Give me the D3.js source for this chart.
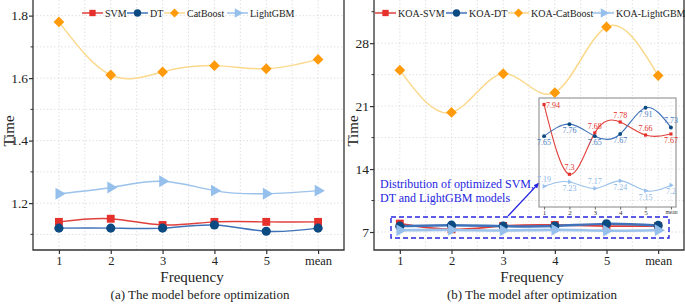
<!DOCTYPE html>
<html>
<head>
<meta charset="utf-8">
<script src="https://cdn.jsdelivr.net/npm/d3@7"></script>
<style>
  body { margin: 0; background: #fff; }
  svg { display: block; font-family: "Liberation Serif", "Times New Roman", serif; }
</style>
</head>
<body>
<svg id="chart" width="685" height="304"></svg>
<script>
// categories on the x axis
const frequencies = ['1', '2', '3', '4', '5', 'mean'];

// (a) before optimization
const svmBefore      = [1.14, 1.15, 1.13, 1.14, 1.14, 1.14];
const dtBefore       = [1.12, 1.12, 1.12, 1.13, 1.11, 1.12];
const catBefore      = [1.78, 1.61, 1.62, 1.64, 1.63, 1.66];
const lgbmBefore     = [1.23, 1.25, 1.27, 1.24, 1.23, 1.24];

// (b) after optimization (KOA)
const svmAfter       = [7.94, 7.30, 7.68, 7.78, 7.66, 7.67];
const dtAfter        = [7.65, 7.76, 7.65, 7.67, 7.91, 7.73];
const catAfter       = [25.0, 20.3, 24.6, 22.5, 29.8, 24.4];
const lgbmAfter      = [7.19, 7.23, 7.17, 7.24, 7.15, 7.20];

// tick values
const ticksBefore      = [1.2, 1.4, 1.6, 1.8];
const minorBefore      = [1.1, 1.3, 1.5, 1.7];
const ticksAfter       = [7, 14, 21, 28];
const minorAfter       = [10.5, 17.5, 24.5, 31.5];

// inset label placement (above / below the point)
const svmLabelPos  = ['right', 'above', 'above', 'above', 'above', 'below'];
const dtLabelPos   = ['below', 'below', 'below', 'below', 'below', 'above'];
const lgbmLabelPos = ['above', 'below', 'above', 'below', 'below', 'below'];

const colors = {
    svm: '#e5302c', svmLine: '#e0403c',
    dt: '#0c4a82', dtLine: '#3f72b8',
    cat: '#ff9a0a', catLine: '#fbd98c',
    lgbm: '#96c0ec', lgbmLine: '#9ac2ea'
};

const svg = d3.select('#chart');

function marker(sel, type, size) {
    // diamond = rotated square, triangle pointing right
    let sym, rot = 0;
    if (type === 'square') sym = d3.symbolSquare;
    else if (type === 'circle') sym = d3.symbolCircle;
    else if (type === 'diamond') { sym = d3.symbolSquare; rot = 45; }
    else { sym = d3.symbolTriangle; rot = 90; }
    return sel.append('path')
        .attr('d', d3.symbol().type(sym).size(size))
        .attr('data-rot', rot);
}

function drawPanel(cfg) {
    const g = svg.append('g');

    const x = d3.scalePoint()
        .domain(frequencies)
        .range([cfg.left, cfg.right])
        .padding(0.5);
    const y = d3.scaleLinear()
        .domain(cfg.yDomain)
        .range([cfg.bottom, cfg.top]);

    // dotted grid at major and minor positions
    const xs = frequencies.map(d => x(d));
    const xMid = xs.slice(0, -1).map((v, i) => (v + xs[i + 1]) / 2);
    const grid = g.append('g')
        .attr('stroke', '#d9d9d9')
        .attr('stroke-width', 0.8)
        .attr('stroke-dasharray', '1.5,2');
    grid.selectAll('.gx')
        .data(xs.concat(xMid))
        .enter().append('line')
        .attr('x1', d => d).attr('x2', d => d)
        .attr('y1', cfg.top).attr('y2', cfg.bottom);
    grid.selectAll('.gy')
        .data(cfg.ticks.concat(cfg.minor))
        .enter().append('line')
        .attr('x1', cfg.left).attr('x2', cfg.right)
        .attr('y1', d => y(d)).attr('y2', d => y(d));

    // y axis
    const yaxis = d3.axisLeft(y)
        .tickValues(cfg.ticks)
        .tickSize(4)
        .tickFormat(cfg.format);
    const yg = g.append('g')
        .attr('transform', `translate(${cfg.left},0)`)
        .call(yaxis);
    yg.select('.domain').remove();
    yg.selectAll('.tick line').attr('stroke', '#333').attr('stroke-width', 1.2);
    yg.selectAll('.tick text')
        .attr('x', -5)
        .style('font-size', '13.5px')
        .style('font-family', '"Liberation Serif", serif')
        .attr('fill', '#222');
    g.selectAll('.minorY')
        .data(cfg.minor)
        .enter().append('line')
        .attr('x1', cfg.left - 2.5).attr('x2', cfg.left)
        .attr('y1', d => y(d)).attr('y2', d => y(d))
        .attr('stroke', '#333').attr('stroke-width', 1);

    // x axis
    const xaxis = d3.axisBottom(x).tickSize(4).tickPadding(2);
    const xg = g.append('g')
        .attr('transform', `translate(0,${cfg.bottom})`)
        .call(xaxis);
    xg.select('.domain').remove();
    xg.selectAll('.tick line').attr('stroke', '#333').attr('stroke-width', 1.2);
    xg.selectAll('.tick text')
        .style('font-size', '12.5px')
        .style('font-family', '"Liberation Serif", serif')
        .attr('fill', '#222');

    // frame (left, bottom, right)
    g.append('path')
        .attr('d', `M${cfg.left},${cfg.top}V${cfg.bottom}H${cfg.right}V${cfg.top}`)
        .attr('fill', 'none')
        .attr('stroke', '#333')
        .attr('stroke-width', 1.3);

    // axis titles
    g.append('text')
        .attr('transform', `translate(${cfg.yTitleX},131) rotate(-90)`)
        .attr('text-anchor', 'middle')
        .style('font-size', '15px')
        .attr('fill', '#222')
        .text('Time');
    g.append('text')
        .attr('x', cfg.titleX)
        .attr('y', 282)
        .attr('text-anchor', 'middle')
        .style('font-size', '15px')
        .attr('fill', '#222')
        .text('Frequency');
    g.append('text')
        .attr('x', cfg.titleX + cfg.capShift)
        .attr('y', 298.5)
        .attr('text-anchor', 'middle')
        .style('font-size', '13px')
        .attr('fill', '#222')
        .text(cfg.caption);

    return { g, x, y };
}

function drawSeries(g, x, y, s, opt) {
    const line = d3.line()
        .x((d, i) => x(frequencies[i]))
        .y(d => y(d))
        .curve(d3.curveNatural);
    g.append('path')
        .datum(s.values)
        .attr('d', line)
        .attr('fill', 'none')
        .attr('stroke', s.line)
        .attr('stroke-width', opt.lw);
    const pts = g.append('g');
    s.values.forEach((v, i) => {
        const m = marker(pts, s.type, opt.ms[s.type]).attr('fill', s.color);
        m.attr('transform', `translate(${x(frequencies[i])},${y(v)}) rotate(${m.attr('data-rot')})`);
    });
}

function drawLegend(g, items, starts, yPos) {
    items.forEach((s, i) => {
        const x0 = starts[i];
        g.append('line')
            .attr('x1', x0).attr('x2', x0 + 21)
            .attr('y1', yPos).attr('y2', yPos)
            .attr('stroke', s.line).attr('stroke-width', 1.5);
        const m = marker(g, s.type, { square: 40, circle: 42, diamond: 40, triangle: 40 }[s.type])
            .attr('fill', s.color);
        m.attr('transform', `translate(${x0 + 10.5},${yPos}) rotate(${m.attr('data-rot')})`);
        g.append('text')
            .attr('x', x0 + 23)
            .attr('y', yPos)
            .attr('dy', '0.35em')
            .style('font-size', '10px')
            .attr('fill', '#222')
            .text(s.name);
    });
}

const bigMarkers = { square: 62, circle: 66, diamond: 58, triangle: 60 };

// ---------- panel (a)
const seriesBefore = [
    { name: 'SVM', values: svmBefore, color: colors.svm, line: colors.svmLine, type: 'square' },
    { name: 'DT', values: dtBefore, color: colors.dt, line: colors.dtLine, type: 'circle' },
    { name: 'CatBoost', values: catBefore, color: colors.cat, line: colors.catLine, type: 'diamond' },
    { name: 'LightGBM', values: lgbmBefore, color: colors.lgbm, line: colors.lgbmLine, type: 'triangle' }
];
const pa = drawPanel({
    left: 33, right: 344, top: 0, bottom: 250,
    yDomain: [1.05, 1.85], ticks: ticksBefore, minor: minorBefore,
    format: d3.format('.1f'), yTitleX: 14, titleX: 192, capShift: 8,
    caption: '(a) The model before optimization'
});
seriesBefore.forEach(s => drawSeries(pa.g, pa.x, pa.y, s, { lw: 1.5, ms: bigMarkers }));
drawLegend(pa.g, seriesBefore, [82, 127, 164, 227], 13);

// ---------- panel (b)
const seriesAfter = [
    { name: 'KOA-SVM', values: svmAfter, color: colors.svm, line: colors.svmLine, type: 'square' },
    { name: 'KOA-DT', values: dtAfter, color: colors.dt, line: colors.dtLine, type: 'circle' },
    { name: 'KOA-CatBoost', values: catAfter, color: colors.cat, line: colors.catLine, type: 'diamond' },
    { name: 'KOA-LightGBM', values: lgbmAfter, color: colors.lgbm, line: colors.lgbmLine, type: 'triangle' }
];
const pb = drawPanel({
    left: 374, right: 684, top: 0, bottom: 250,
    yDomain: [5, 32.8], ticks: ticksAfter, minor: minorAfter,
    format: d3.format('d'), yTitleX: 358, titleX: 532, capShift: 0,
    caption: '(b) The model after optimization'
});
const afterWidths = { square: 1.8, circle: 2.4, diamond: 1.5, triangle: 2.6 };
seriesAfter.forEach(s => drawSeries(pb.g, pb.x, pb.y, s,
    { lw: afterWidths[s.type], ms: bigMarkers }));
drawLegend(pb.g, seriesAfter, [375, 446, 508, 593], 13);

// dashed box around the crowded lines + annotation
const annColor = '#2626e0';
pb.g.append('rect')
    .attr('x', 391).attr('y', 217)
    .attr('width', 278).attr('height', 21)
    .attr('fill', 'none')
    .attr('stroke', annColor)
    .attr('stroke-width', 1.4)
    .attr('stroke-dasharray', '5,3');
const ann = pb.g.append('text')
    .style('font-size', '12px')
    .attr('fill', annColor);
ann.append('tspan').attr('x', 380).attr('y', 188).text('Distribution of optimized SVM,');
ann.append('tspan').attr('x', 380).attr('y', 202).text('DT and LightGBM models');

svg.append('defs').append('marker')
    .attr('id', 'arrow')
    .attr('viewBox', '0 0 10 10')
    .attr('refX', 9).attr('refY', 5)
    .attr('markerWidth', 5).attr('markerHeight', 5)
    .attr('orient', 'auto')
    .append('path')
    .attr('d', 'M0,1L10,5L0,9z')
    .attr('fill', annColor);
pb.g.append('line')
    .attr('x1', 508).attr('y1', 216)
    .attr('x2', 539).attr('y2', 183)
    .attr('stroke', annColor)
    .attr('stroke-width', 1.2)
    .attr('marker-end', 'url(#arrow)');

// ---------- inset (zoom of SVM / DT / LightGBM)
const inset = { left: 539, right: 676, top: 98, bottom: 207 };
const ix = d3.scalePoint().domain(frequencies).range([inset.left, inset.right]).padding(0.2);
const iy = d3.scaleLinear().domain([7.0, 8.0]).range([inset.bottom, inset.top]);
const ig = pb.g.append('g');

ig.append('g')
    .attr('stroke', '#dcdcdc')
    .attr('stroke-width', 0.7)
    .attr('stroke-dasharray', '1.5,2')
    .selectAll('line')
    .data(frequencies)
    .enter().append('line')
    .attr('x1', d => ix(d)).attr('x2', d => ix(d))
    .attr('y1', inset.top).attr('y2', inset.bottom);

ig.append('rect')
    .attr('x', inset.left).attr('y', inset.top)
    .attr('width', inset.right - inset.left)
    .attr('height', inset.bottom - inset.top)
    .attr('fill', 'none')
    .attr('stroke', '#999')
    .attr('stroke-width', 1.2);

const ixaxis = d3.axisBottom(ix).tickSize(2.5).tickPadding(1);
const ixg = ig.append('g')
    .attr('transform', `translate(0,${inset.bottom})`)
    .call(ixaxis);
ixg.select('.domain').remove();
ixg.selectAll('.tick line').attr('stroke', '#666');
ixg.selectAll('.tick text')
    .style('font-size', d => d === 'mean' ? '5.5px' : '7px')
    .style('font-family', '"Liberation Serif", serif')
    .attr('fill', '#333');

const insetSeries = [
    { s: seriesAfter[0], pos: svmLabelPos, text: '#e5302c' },
    { s: seriesAfter[1], pos: dtLabelPos, text: '#4a7cc0' },
    { s: seriesAfter[3], pos: lgbmLabelPos, text: '#8fb8e6' }
];
const smallMarkers = { square: 10, circle: 12, diamond: 10, triangle: 10 };
insetSeries.forEach(o => {
    drawSeries(ig, ix, iy, o.s, { lw: 1.1, ms: smallMarkers });
    ig.selectAll(null)
        .data(o.s.values)
        .enter().append('text')
        .attr('x', (d, i) => ix(frequencies[i]) + (o.pos[i] === 'right' ? 2 : 0))
        .attr('y', (d, i) => iy(d) + (o.pos[i] === 'above' ? -4 : o.pos[i] === 'below' ? 9 : 3))
        .attr('text-anchor', (d, i) => o.pos[i] === 'right' ? 'start' : 'middle')
        .style('font-size', '8px')
        .attr('fill', o.text)
        .text(d => d3.format('~g')(d));
});
</script>
</body>
</html>
